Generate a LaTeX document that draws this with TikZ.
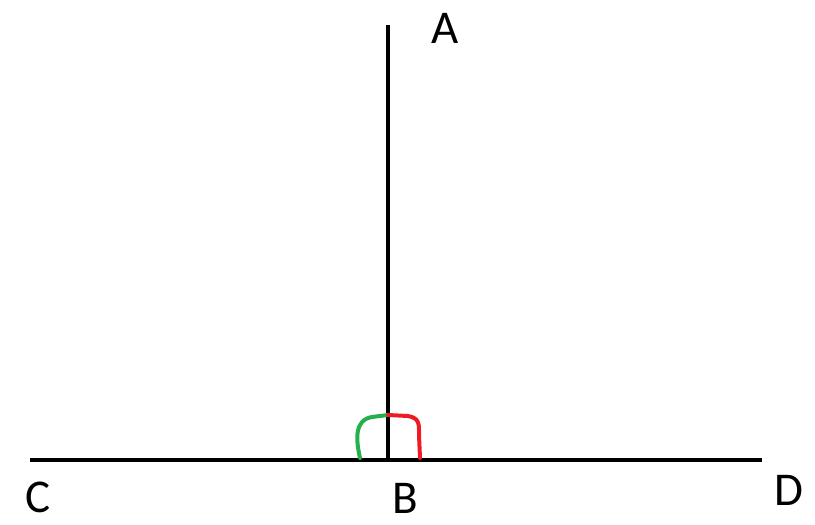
\documentclass[tikz,border=0pt]{standalone}
\usepackage{fontspec}
\setmainfont{Carlito}
\usepackage{tikz}
\usetikzlibrary{positioning}

\definecolor{paintgreen}{HTML}{22B14C}
\definecolor{paintred}{HTML}{ED1C24}

\begin{document}
\begin{tikzpicture}[
    x=1pt, y=-1pt,
    seg/.style={line width=4.5pt, black},
    anglemark/.style={line width=4pt, line cap=round, line join=round},
    lbl/.style={font=\fontsize{47}{47}\selectfont, inner sep=0pt}
]
\useasboundingbox (0,0) rectangle (815,525);

% Points
\coordinate (a) at (388,25);
\coordinate (b) at (388,460);
\coordinate (c) at (30,460);
\coordinate (d) at (762,460);

% Lines
\draw[seg] (a) -- (b);
\draw[seg] (c) -- (d);

% Angle marks
\draw[anglemark, paintgreen] (360,458) .. controls (356,440) and (354,420) .. (372,417) -- (388,415);
\draw[anglemark, paintred] (388,415) -- (408,416) .. controls (420,418) and (419,425) .. (419,435) -- (420,458);

% Labels
\node[lbl] (la) at (445,28) {A};
\node[lbl] (lc) at (38,497) {C};
\node[lbl] (lb) at (405,498) {B};
\node[lbl] (ld) at (789,490) {D};
\end{tikzpicture}
\end{document}
